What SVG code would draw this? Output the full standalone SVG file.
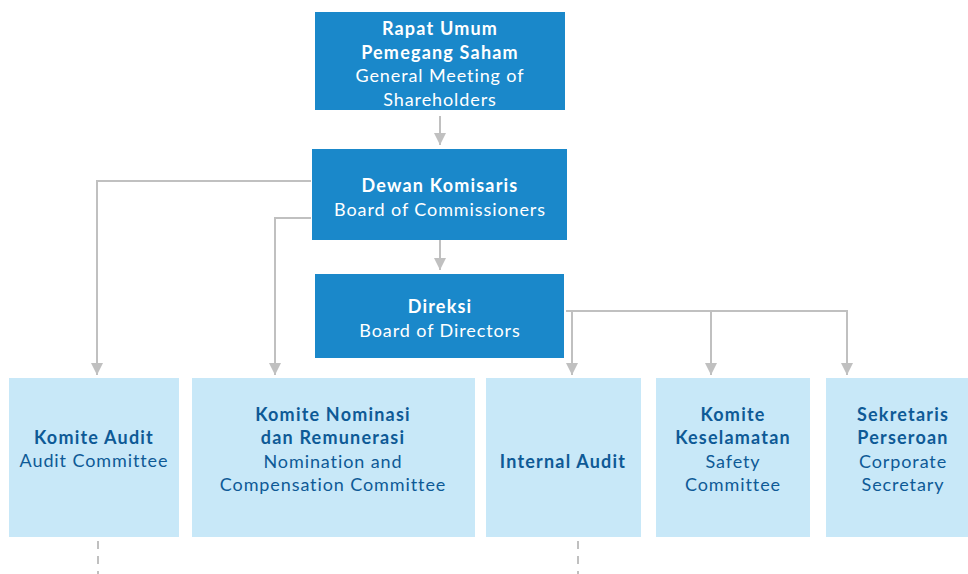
<svg xmlns="http://www.w3.org/2000/svg" width="968" height="574" viewBox="0 0 968 574">
<style>
.dk{fill:#1a88ca}
.lt{fill:#c8e8f8}
text{font-family:Lato,"Open Sans","Liberation Sans",sans-serif;font-size:18px;text-anchor:middle;letter-spacing:0.9px}
.w{fill:#ffffff}
.b{fill:#0e5a96}
.bold{font-weight:bold;letter-spacing:1.2px}
.ln{fill:none;stroke:#c0c0c0;stroke-width:2}
.ds{fill:none;stroke:#c0c0c0;stroke-width:2;stroke-dasharray:8 7}
</style>
<defs>
<marker id="ah" markerWidth="12" markerHeight="12" viewBox="0 0 12 12" refX="12" refY="6" orient="auto" markerUnits="userSpaceOnUse">
<path d="M0,0 L12,6 L0,12 Z" fill="#c0c0c0"/>
</marker>
</defs>
<g id="connectors">
<path class="ln" d="M440,116 V145" marker-end="url(#ah)"/>
<path class="ln" d="M440,240 V270" marker-end="url(#ah)"/>
<path class="ln" d="M311,181 H97 V375" marker-end="url(#ah)"/>
<path class="ln" d="M311,218 H275 V375" marker-end="url(#ah)"/>
<path class="ln" d="M566,311 H847 V375" marker-end="url(#ah)"/>
<path class="ln" d="M572,311 V375" marker-end="url(#ah)"/>
<path class="ln" d="M711,311 V375" marker-end="url(#ah)"/>
<path class="ds" d="M98,541 V574"/>
<path class="ds" d="M578,541 V574"/>
</g>
<g id="rups">
<rect class="dk" x="315" y="12" width="250" height="98"/>
<text class="w bold" x="440" y="35">Rapat Umum</text>
<text class="w bold" x="440" y="59">Pemegang Saham</text>
<text class="w" x="440" y="82">General Meeting of</text>
<text class="w" x="440" y="106">Shareholders</text>
</g>
<g id="dekom">
<rect class="dk" x="312" y="149" width="255" height="91"/>
<text class="w bold" x="440" y="192">Dewan Komisaris</text>
<text class="w" x="440" y="216">Board of Commissioners</text>
</g>
<g id="direksi">
<rect class="dk" x="315" y="274" width="249" height="84"/>
<text class="w bold" x="440" y="313">Direksi</text>
<text class="w" x="440" y="337">Board of Directors</text>
</g>
<g id="audit">
<rect class="lt" x="9" y="378" width="170" height="159"/>
<text class="b bold" x="94" y="444">Komite Audit</text>
<text class="b" x="94" y="467">Audit Committee</text>
</g>
<g id="nominasi">
<rect class="lt" x="192" y="378" width="283" height="159"/>
<text class="b bold" x="333" y="421">Komite Nominasi</text>
<text class="b bold" x="333" y="444">dan Remunerasi</text>
<text class="b" x="333" y="468">Nomination and</text>
<text class="b" x="333" y="491">Compensation Committee</text>
</g>
<g id="internal">
<rect class="lt" x="486" y="378" width="155" height="159"/>
<text class="b bold" x="563" y="468">Internal Audit</text>
</g>
<g id="safety">
<rect class="lt" x="656" y="378" width="154" height="159"/>
<text class="b bold" x="733" y="421">Komite</text>
<text class="b bold" x="733" y="444">Keselamatan</text>
<text class="b" x="733" y="468">Safety</text>
<text class="b" x="733" y="491">Committee</text>
</g>
<g id="sekretaris">
<rect class="lt" x="826" y="378" width="142" height="159"/>
<text class="b bold" x="903" y="421">Sekretaris</text>
<text class="b bold" x="903" y="444">Perseroan</text>
<text class="b" x="903" y="468">Corporate</text>
<text class="b" x="903" y="491">Secretary</text>
</g>
</svg>
